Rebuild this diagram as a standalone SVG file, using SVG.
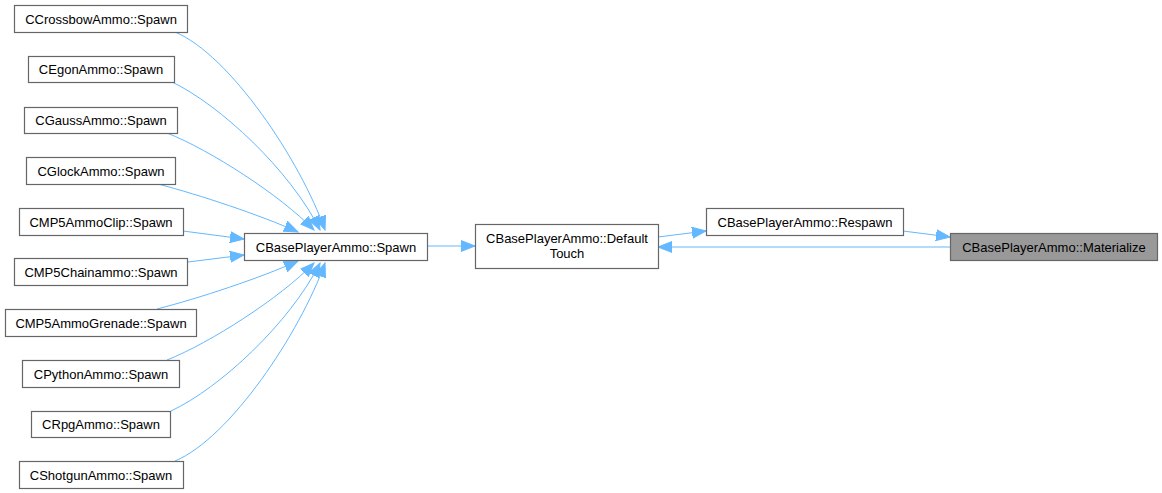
<svg xmlns="http://www.w3.org/2000/svg" width="1162" height="493" viewBox="0 0 1162 493">
<style>
.n rect{fill:#ffffff;stroke:#666666;stroke-width:1.2}
.n.hl rect{fill:#999999;stroke:#666666}
.n text{font-family:"Liberation Sans",Arial,sans-serif;font-size:13px;fill:#000000;text-anchor:middle}
.e path{fill:none;stroke:#63b8ff;stroke-width:1;marker-end:url(#ah)}
</style>
<defs>
<marker id="ah" markerUnits="userSpaceOnUse" markerWidth="15" markerHeight="12" refX="14" refY="5.5" orient="auto" viewBox="0 0 15 11">
<path d="M0,0 L14,5.5 L0,11 z" fill="#63b8ff" stroke="#63b8ff" stroke-width="1"/>
</marker>
</defs>
<rect width="1162" height="493" fill="#ffffff"/>
<g id="connectors" class="e">
<path d="M175,32 C230,55 300,160 325,230"/>
<path d="M172,82 C220,105 290,170 320,230"/>
<path d="M167,133 C210,150 280,195 314,230"/>
<path d="M158,184 C200,195 260,215 298,232"/>
<path d="M183,231 L244,239"/>
<path d="M188,262 L244,255"/>
<path d="M157,309 C200,298 260,278 298,261"/>
<path d="M167,360 C210,343 280,298 314,263"/>
<path d="M171,411 C220,388 290,323 320,263"/>
<path d="M175,461 C230,438 300,333 325,263"/>
<path d="M427,246 L475,246"/>
<path d="M658,237 L706,231"/>
<path d="M903,231 L950,237"/>
<path d="M950,247 L658,247"/>
</g>
<g id="n_crossbow" class="n"><rect x="14.5" y="5.5" width="173" height="27"/><text x="101" y="23.5">CCrossbowAmmo::Spawn</text></g>
<g id="n_egon" class="n"><rect x="28.5" y="56.5" width="146" height="26"/><text x="101" y="74">CEgonAmmo::Spawn</text></g>
<g id="n_gauss" class="n"><rect x="24.5" y="107.5" width="153" height="26"/><text x="101" y="125">CGaussAmmo::Spawn</text></g>
<g id="n_glock" class="n"><rect x="26.5" y="157.5" width="149" height="27"/><text x="101" y="175.5">CGlockAmmo::Spawn</text></g>
<g id="n_mp5clip" class="n"><rect x="19.5" y="208.5" width="164" height="27"/><text x="101" y="226.5">CMP5AmmoClip::Spawn</text></g>
<g id="n_mp5chain" class="n"><rect x="14.5" y="258.5" width="173" height="27"/><text x="101" y="276.5">CMP5Chainammo::Spawn</text></g>
<g id="n_mp5grenade" class="n"><rect x="5.5" y="309.5" width="191" height="27"/><text x="101" y="327.5">CMP5AmmoGrenade::Spawn</text></g>
<g id="n_python" class="n"><rect x="22.5" y="360.5" width="157" height="27"/><text x="101" y="378.5">CPythonAmmo::Spawn</text></g>
<g id="n_rpg" class="n"><rect x="31.5" y="411.5" width="139" height="26"/><text x="101" y="429">CRpgAmmo::Spawn</text></g>
<g id="n_shotgun" class="n"><rect x="19.5" y="461.5" width="164" height="27"/><text x="101" y="479.5">CShotgunAmmo::Spawn</text></g>
<g id="n_bpa_spawn" class="n"><rect x="244.5" y="233.5" width="183" height="27"/><text x="336" y="251.5">CBasePlayerAmmo::Spawn</text></g>
<g id="n_bpa_touch" class="n"><rect x="475.5" y="224.5" width="183" height="44"/><text x="567" y="242.5">CBasePlayerAmmo::Default</text><text x="567" y="258">Touch</text></g>
<g id="n_bpa_respawn" class="n"><rect x="706.5" y="208.5" width="197" height="27"/><text x="805" y="226.5">CBasePlayerAmmo::Respawn</text></g>
<g id="n_bpa_materialize" class="n hl"><rect x="950.5" y="233.5" width="207" height="27"/><text x="1054" y="251.5">CBasePlayerAmmo::Materialize</text></g>
</svg>
